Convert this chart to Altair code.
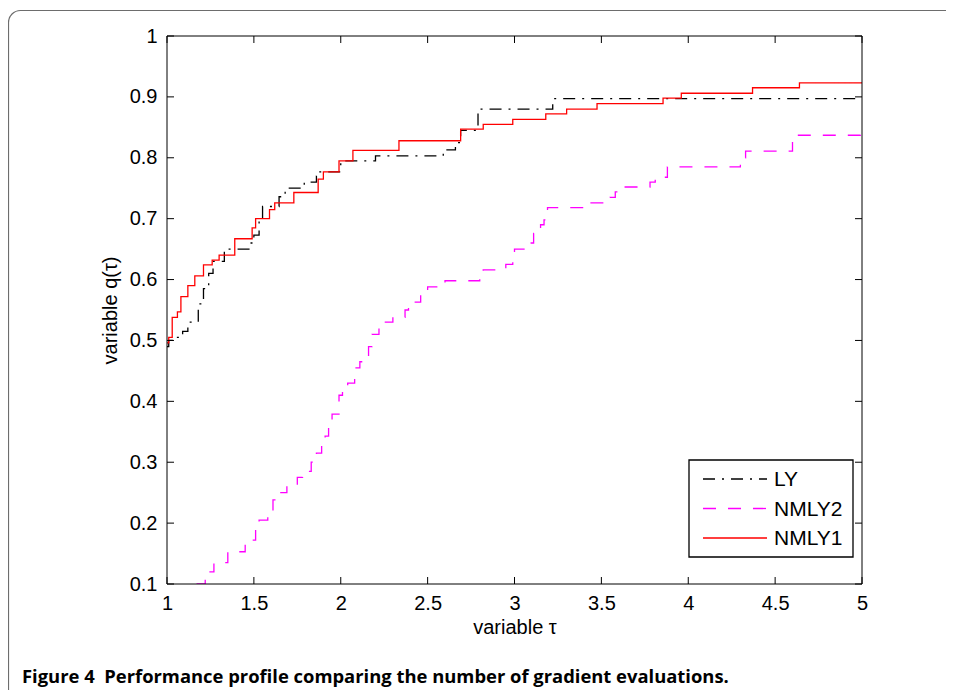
import altair as alt
import pandas as pd

# ---------------- data ----------------
series_names = ["LY", "NMLY2", "NMLY1"]
series_colors = ["#000000", "#ff00ff", "#ff0000"]
series_dashes = [[12, 7, 2, 7], [13, 12], [1, 0]]

ly_tau = [1.0, 1.01, 1.05, 1.09, 1.12, 1.18, 1.21, 1.24, 1.265, 1.33, 1.48, 1.50, 1.53,
          1.55, 1.645, 1.68, 1.79, 1.86, 1.88, 2.0, 2.20, 2.59, 2.66, 2.69, 2.79, 3.22, 5.0]
ly_q = [0.49, 0.50, 0.505, 0.515, 0.53, 0.56, 0.585, 0.61, 0.63, 0.65, 0.66, 0.673, 0.70,
        0.72, 0.736, 0.75, 0.76, 0.77, 0.777, 0.795, 0.803, 0.813, 0.825, 0.845, 0.88, 0.897, 0.897]

nmly2_tau = [1.17, 1.22, 1.27, 1.35, 1.45, 1.51, 1.53, 1.58, 1.61, 1.65, 1.69, 1.75, 1.78,
             1.83, 1.86, 1.89, 1.91, 1.93, 1.95, 1.99, 2.01, 2.04, 2.08, 2.11, 2.14, 2.16,
             2.18, 2.22, 2.24, 2.30, 2.37, 2.39, 2.46, 2.48, 2.50, 2.60, 2.80, 2.82, 2.95,
             2.99, 3.00, 3.07, 3.11, 3.15, 3.17, 3.19, 3.40, 3.55, 3.58, 3.63, 3.78, 3.81,
             3.88, 4.30, 4.33, 4.60, 4.99, 5.0]
nmly2_q = [0.10, 0.12, 0.135, 0.153, 0.172, 0.19, 0.205, 0.22, 0.238, 0.25, 0.264, 0.275,
           0.285, 0.30, 0.315, 0.33, 0.343, 0.36, 0.379, 0.41, 0.42, 0.43, 0.455, 0.465,
           0.47, 0.49, 0.51, 0.52, 0.53, 0.538, 0.55, 0.563, 0.575, 0.58, 0.588, 0.598,
           0.61, 0.616, 0.625, 0.632, 0.65, 0.66, 0.676, 0.69, 0.698, 0.718, 0.726, 0.735,
           0.744, 0.752, 0.76, 0.768, 0.785, 0.80, 0.811, 0.837, 0.848, 0.848]

nmly1_tau = [1.0, 1.01, 1.03, 1.06, 1.08, 1.12, 1.16, 1.21, 1.26, 1.30, 1.39, 1.49, 1.51,
             1.59, 1.62, 1.73, 1.87, 1.90, 1.99, 2.07, 2.335, 2.69, 2.82, 2.99, 3.18, 3.30,
             3.475, 3.855, 3.96, 4.37, 4.64, 5.0]
nmly1_q = [0.496, 0.505, 0.538, 0.547, 0.572, 0.59, 0.606, 0.624, 0.632, 0.64, 0.667, 0.685,
           0.70, 0.715, 0.726, 0.743, 0.765, 0.777, 0.795, 0.812, 0.828, 0.847, 0.855, 0.863,
           0.872, 0.880, 0.889, 0.898, 0.906, 0.915, 0.923, 0.923]

x_ticks = [1, 1.5, 2, 2.5, 3, 3.5, 4, 4.5, 5]
y_ticks = [0.1, 0.2, 0.3, 0.4, 0.5, 0.6, 0.7, 0.8, 0.9, 1.0]

x_title = "variable τ"
y_title = "variable q(τ)"
caption = "Figure 4\u00a0\u00a0Performance profile comparing the number of gradient evaluations."

# ---------------- build tables ----------------
rows = []
for name, ts, qs in [("LY", ly_tau, ly_q), ("NMLY2", nmly2_tau, nmly2_q), ("NMLY1", nmly1_tau, nmly1_q)]:
    for i, (t, q) in enumerate(zip(ts, qs)):
        rows.append({"series": name, "tau": t, "q": q, "idx": i})
df = pd.DataFrame(rows)

W, H = 695, 548
FONT = "Liberation Sans"

xs = alt.Scale(domain=[1, 5], nice=False, zero=False)
ys = alt.Scale(domain=[0.1, 1.0], nice=False, zero=False)

x_axis = alt.Axis(values=x_ticks, format="~g", title=x_title, domain=False, ticks=False,
                  grid=False, labelFont=FONT, labelFontSize=20, labelColor="black",
                  labelPadding=9, titleFont=FONT, titleFontSize=20, titleFontWeight="normal",
                  titleColor="black", titlePadding=4, labelFlush=False)
y_axis = alt.Axis(values=y_ticks, format="~g", title=y_title, domain=False, ticks=False,
                  grid=False, labelFont=FONT, labelFontSize=20, labelColor="black",
                  labelPadding=10, titleFont=FONT, titleFontSize=20, titleFontWeight="normal",
                  titleColor="black", titlePadding=9, labelFlush=False)

color_scale = alt.Scale(domain=series_names, range=series_colors)
dash_scale = alt.Scale(domain=series_names, range=series_dashes)

lines = alt.Chart(df).mark_line(interpolate="step-after", clip=True, strokeWidth=1.3).encode(
    x=alt.X("tau:Q", scale=xs, axis=x_axis),
    y=alt.Y("q:Q", scale=ys, axis=y_axis),
    color=alt.Color("series:N", scale=color_scale, legend=None),
    strokeDash=alt.StrokeDash("series:N", scale=dash_scale, legend=None),
    order="idx:Q",
)

xt = pd.DataFrame({"tau": x_ticks})
yt = pd.DataFrame({"q": y_ticks})
tick_style = dict(color="black", strokeWidth=1)
bottom_ticks = alt.Chart(xt).mark_rule(**tick_style).encode(
    x=alt.X("tau:Q", scale=xs, axis=x_axis), y=alt.value(H), y2=alt.value(H - 7))
top_ticks = alt.Chart(xt).mark_rule(**tick_style).encode(
    x=alt.X("tau:Q", scale=xs, axis=x_axis), y=alt.value(0), y2=alt.value(7))
left_ticks = alt.Chart(yt).mark_rule(**tick_style).encode(
    y=alt.Y("q:Q", scale=ys, axis=y_axis), x=alt.value(0), x2=alt.value(7))
right_ticks = alt.Chart(yt).mark_rule(**tick_style).encode(
    y=alt.Y("q:Q", scale=ys, axis=y_axis), x=alt.value(W), x2=alt.value(W - 7))

one = pd.DataFrame({"c": [caption]})
frame = alt.Chart(one).mark_rect(fillOpacity=0, stroke="black", strokeWidth=1).encode(
    x=alt.value(0), x2=alt.value(W), y=alt.value(0), y2=alt.value(H))
border = alt.Chart(one).mark_rect(fillOpacity=0, stroke="#6d6d6d", strokeWidth=1.2,
                                  cornerRadius=12).encode(
    x=alt.value(-158.5), x2=alt.value(900), y=alt.value(-25.5), y2=alt.value(700))
cap = alt.Chart(one).mark_text(align="left", baseline="alphabetic", font="Open Sans",
                               fontWeight="bold", fontSize=18.4, color="black").encode(
    x=alt.value(-145), y=alt.value(647), text="c:N")

# legend box (drawn inside the plot, as in the reference)
leg_df = pd.DataFrame({"series": series_names})
legend_layers = [
    alt.Chart(one).mark_rect(fill="white", stroke="black", strokeWidth=1.3).encode(
        x=alt.value(522), x2=alt.value(686), y=alt.value(424), y2=alt.value(521))
]
for i, name in enumerate(series_names):
    yy = 443 + 29.5 * i
    sub = alt.Chart(leg_df).transform_filter(alt.datum.series == name)
    legend_layers.append(sub.mark_rule(strokeWidth=1.3).encode(
        x=alt.value(536), x2=alt.value(600), y=alt.value(yy),
        color=alt.Color("series:N", scale=color_scale, legend=None),
        strokeDash=alt.StrokeDash("series:N", scale=dash_scale, legend=None)))
    legend_layers.append(sub.mark_text(align="left", baseline="middle", font=FONT,
                                       fontSize=21, color="black").encode(
        x=alt.value(607), y=alt.value(yy + 1), text="series:N"))

chart = alt.layer(border, lines, frame, bottom_ticks, top_ticks, left_ticks, right_ticks,
                  *legend_layers, cap).properties(
    width=W, height=H,
    autosize=alt.AutoSizeParams(type="none"),
    padding={"left": 159, "top": 28, "right": 84, "bottom": 106},
    background="white",
).configure_view(stroke=None)

chart.save("out.html", embed_options={"renderer": "svg", "actions": False})
